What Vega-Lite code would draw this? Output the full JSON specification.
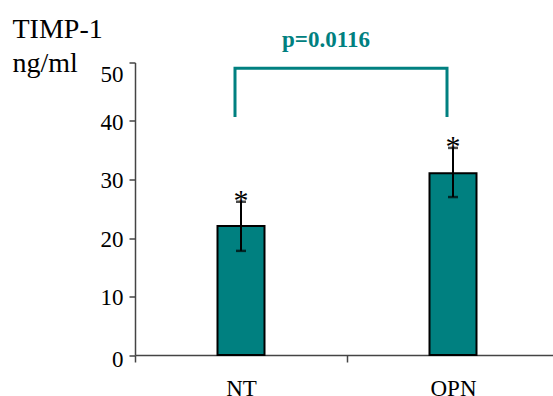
{
  "$schema": "https://vega.github.io/schema/vega-lite/v6.json",
  "autosize": "none",
  "width": 418,
  "height": 292.5,
  "padding": {"left": 135, "top": 62.5, "right": 0, "bottom": 41},
  "background": "white",
  "config": {
    "font": "Liberation Serif",
    "view": {"stroke": null}
  },
  "datasets": {
    "bars": [
      {"cond": "NT", "mean": 22.05, "lo": 17.8, "hi": 26.2},
      {"cond": "OPN", "mean": 31.05, "lo": 27.0, "hi": 35.4}
    ],
    "bracket": [
      {"cond": "NT", "v": 40.7, "i": 1},
      {"cond": "NT", "v": 49.0, "i": 2},
      {"cond": "OPN", "v": 49.0, "i": 3},
      {"cond": "OPN", "v": 40.7, "i": 4}
    ],
    "pval": [
      {"cond": "NT", "v": 50, "label": "p=0.0116"}
    ]
  },
  "layer": [
    {
      "data": {"name": "bars"},
      "mark": {"type": "bar", "size": 47, "fill": "#008080", "stroke": "#000000", "strokeWidth": 2},
      "encoding": {
        "x": {
          "field": "cond", "type": "nominal", "sort": ["NT", "OPN"],
          "scale": {"range": [0, 424], "paddingInner": 0, "paddingOuter": 0},
          "axis": {
            "title": null, "labelAngle": 0, "tickBand": "extent",
            "domainColor": "#444444", "domainWidth": 1.5, "tickColor": "#444444", "tickWidth": 1.5,
            "tickSize": 7, "labelPadding": 15, "labelFontSize": 23, "labelColor": "#000000",
            "labelFont": "Liberation Serif"
          }
        },
        "y": {
          "field": "mean", "type": "quantitative",
          "scale": {"domain": [0, 50], "nice": false},
          "axis": {
            "values": [0, 10, 20, 30, 40, 50], "grid": false,
            "domainColor": "#444444", "domainWidth": 1.5, "tickColor": "#444444", "tickWidth": 1.5,
            "tickSize": 6, "labelPadding": 6, "labelFontSize": 23, "labelColor": "#000000",
            "labelFont": "Liberation Serif",
            "labelBaseline": {"condition": {"test": "datum.value == 50", "value": "top"}, "value": "middle"},
            "labelOffset": {"condition": {"test": "datum.value == 0", "value": 4}, "value": 1},
            "title": ["TIMP-1", "ng/ml"], "titleAngle": 0, "titleAlign": "left", "titleBaseline": "alphabetic",
            "titleX": -123, "titleY": -25.5, "titleLineHeight": 34, "titleFontSize": 28,
            "titleFontWeight": "normal", "titleFont": "Liberation Serif", "titleColor": "#000000"
          }
        }
      }
    },
    {
      "data": {"name": "bars"},
      "mark": {"type": "rule", "color": "#000000", "strokeWidth": 2},
      "encoding": {
        "x": {"field": "cond", "type": "nominal"},
        "y": {"field": "lo", "type": "quantitative"},
        "y2": {"field": "hi"}
      }
    },
    {
      "data": {"name": "bars"},
      "mark": {"type": "tick", "color": "#000000", "size": 10, "thickness": 2.5},
      "encoding": {
        "x": {"field": "cond", "type": "nominal"},
        "y": {"field": "lo", "type": "quantitative"}
      }
    },
    {
      "data": {"name": "bars"},
      "mark": {"type": "tick", "color": "#000000", "size": 10, "thickness": 2.5},
      "encoding": {
        "x": {"field": "cond", "type": "nominal"},
        "y": {"field": "hi", "type": "quantitative"}
      }
    },
    {
      "data": {"name": "bars"},
      "mark": {"type": "text", "text": "*", "fontSize": 30, "dy": 8, "baseline": "alphabetic", "color": "#000000", "font": "Liberation Serif"},
      "encoding": {
        "x": {"field": "cond", "type": "nominal"},
        "y": {"field": "hi", "type": "quantitative"}
      }
    },
    {
      "data": {"name": "bracket"},
      "mark": {"type": "line", "color": "#008080", "strokeWidth": 3, "xOffset": -6, "clip": false, "strokeCap": "butt", "strokeJoin": "miter"},
      "encoding": {
        "x": {"field": "cond", "type": "nominal"},
        "y": {"field": "v", "type": "quantitative"},
        "order": {"field": "i", "type": "quantitative"}
      }
    },
    {
      "data": {"name": "pval"},
      "mark": {"type": "text", "fontSize": 23, "fontWeight": "bold", "color": "#008080", "dx": 85, "dy": -15.5, "baseline": "alphabetic", "align": "center", "clip": false, "font": "Liberation Serif"},
      "encoding": {
        "x": {"field": "cond", "type": "nominal"},
        "y": {"field": "v", "type": "quantitative"},
        "text": {"field": "label"}
      }
    }
  ]
}
